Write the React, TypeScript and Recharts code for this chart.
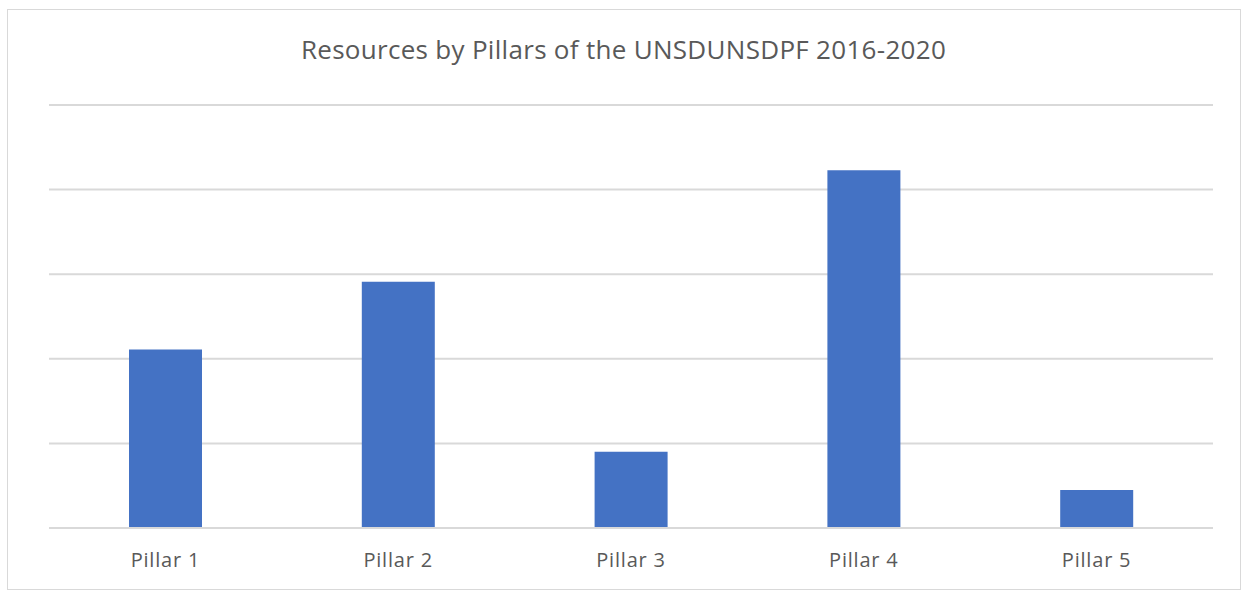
import { BarChart, Bar, XAxis, YAxis, CartesianGrid } from 'recharts';

const pillars = ['Pillar 1', 'Pillar 2', 'Pillar 3', 'Pillar 4', 'Pillar 5'];
const resources = [2.11, 2.91, 0.9, 4.23, 0.45];
const yTicks = [0, 1, 2, 3, 4, 5];

const data = pillars.map((name, i) => ({ name, value: resources[i] }));

const FONT = '"Open Sans", sans-serif';

export default function App() {
  return (
    <div style={{ position: 'absolute', left: 0, top: 0, width: 1245, height: 592, background: '#fff', fontFamily: FONT }}>
      <div
        style={{
          position: 'absolute',
          left: 7,
          top: 9,
          width: 1234,
          height: 581,
          border: '1.5px solid #d9d9d9',
          boxSizing: 'border-box',
        }}
      />
      <svg width={1245} height={592} style={{ position: 'absolute', left: 0, top: 0 }}>
        <text x={623.5} y={59} textAnchor="middle" fontSize={26} letterSpacing={0.3} fill="#595959" fontFamily={FONT}>
          Resources by Pillars of the UNSDUNSDPF 2016-2020
        </text>
      </svg>
      <div style={{ position: 'absolute', left: 0, top: 0 }}>
        <BarChart width={1245} height={592} data={data} margin={{ top: 105, right: 32, bottom: 34, left: 49 }}>
          <CartesianGrid horizontal vertical={false} stroke="#d9d9d9" strokeWidth={2} />
          <XAxis
            dataKey="name"
            height={30}
            axisLine={{ stroke: '#d9d9d9', strokeWidth: 2 }}
            tickLine={false}
            tick={{ fill: '#595959', fontSize: 20, fontFamily: FONT, letterSpacing: 0.8 }}
            tickMargin={19}
          />
          <YAxis hide domain={[0, 5]} ticks={yTicks} />
          <Bar dataKey="value" fill="#4472C4" barSize={73} isAnimationActive={false} />
        </BarChart>
      </div>
    </div>
  );
}
